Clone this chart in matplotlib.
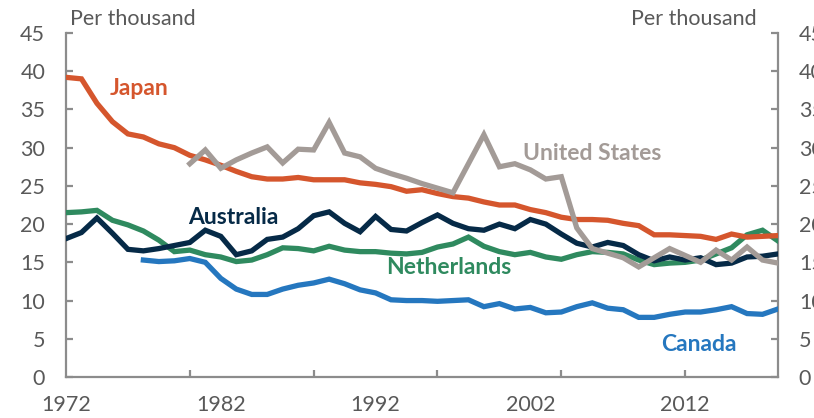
import matplotlib
matplotlib.use("Agg")
import matplotlib.pyplot as plt

plt.rcParams['font.family'] = ['Lato', 'DejaVu Sans']

years = list(range(1972, 2019))

japan = [39.2, 39.0, 35.8, 33.4, 31.8, 31.4, 30.5, 30.0, 29.0, 28.4,
         27.7, 26.9, 26.2, 25.9, 25.9, 26.1, 25.8, 25.8, 25.8, 25.4,
         25.2, 24.9, 24.3, 24.5, 24.0, 23.6, 23.4, 22.9, 22.5, 22.5,
         21.9, 21.5, 20.9, 20.6, 20.6, 20.5, 20.1, 19.8, 18.6, 18.6,
         18.5, 18.4, 18.0, 18.7, 18.3, 18.4, 18.5]

us_years = list(range(1980, 2019))
united_states = [27.9, 29.7, 27.3, 28.4, 29.3, 30.1, 28.0, 29.8, 29.7, 33.3,
                 29.3, 28.8, 27.3, 26.6, 26.0, 25.3, 24.7, 24.1, 27.9, 31.7,
                 27.5, 27.9, 27.1, 25.9, 26.2, 19.5, 16.8, 16.2, 15.6, 14.4,
                 15.6, 16.8, 15.9, 15.0, 16.6, 15.3, 17.0, 15.3, 14.9]

australia = [18.1, 18.9, 20.8, 18.8, 16.7, 16.5, 16.8, 17.2, 17.6, 19.2,
             18.4, 16.0, 16.5, 18.0, 18.3, 19.4, 21.1, 21.6, 20.1, 19.0,
             21.0, 19.3, 19.1, 20.2, 21.2, 20.1, 19.4, 19.2, 20.0, 19.4,
             20.6, 20.0, 18.7, 17.5, 17.0, 17.6, 17.2, 16.0, 15.2, 15.7,
             15.3, 15.6, 14.7, 14.9, 15.7, 15.8, 16.1]

netherlands = [21.5, 21.6, 21.8, 20.5, 19.9, 19.1, 17.9, 16.4, 16.6, 16.0,
               15.7, 15.1, 15.3, 16.0, 16.9, 16.8, 16.5, 17.1, 16.6, 16.4,
               16.4, 16.2, 16.1, 16.3, 17.0, 17.4, 18.3, 17.1, 16.4, 16.0,
               16.3, 15.7, 15.4, 16.0, 16.4, 16.3, 16.1, 15.3, 14.7, 14.9,
               15.0, 15.3, 16.1, 16.9, 18.6, 19.2, 17.8]

canada_years = list(range(1977, 2019))
canada = [15.3, 15.1, 15.2, 15.5, 15.0, 12.9, 11.5, 10.8, 10.8, 11.5,
          12.0, 12.3, 12.8, 12.2, 11.4, 11.0, 10.1, 10.0, 10.0, 9.9,
          10.0, 10.1, 9.2, 9.6, 8.9, 9.1, 8.4, 8.5, 9.2, 9.7,
          9.0, 8.8, 7.8, 7.8, 8.2, 8.5, 8.5, 8.8, 9.2, 8.3,
          8.2, 8.9]

yticks = [0, 5, 10, 15, 20, 25, 30, 35, 40, 45]
xlabels = [1972, 1982, 1992, 2002, 2012]
xmajor = [1980, 1988, 1996, 2004, 2012]

c_japan = '#D5562D'
c_us = '#A39B97'
c_aus = '#062A47'
c_neth = '#2F8A5F'
c_can = '#2577BF'
c_axis = '#8C8C8C'
c_text = '#595959'

fig = plt.figure(figsize=(8.14, 4.18), dpi=100)
ax = fig.add_axes([66/814, 41/418, (778-66)/814, (377-33)/418])

lw = 3.8
ax.plot(years, netherlands, color=c_neth, lw=lw, solid_joinstyle='miter', zorder=3)
ax.plot(years, australia, color=c_aus, lw=lw, solid_joinstyle='miter', zorder=4)
ax.plot(canada_years, canada, color=c_can, lw=lw, solid_joinstyle='miter', zorder=3)
ax.plot(years, japan, color=c_japan, lw=lw, solid_joinstyle='miter', zorder=3)
ax.plot(us_years, united_states, color=c_us, lw=lw, solid_joinstyle='miter', zorder=5)

ax.set_xlim(1972, 2018)
ax.set_ylim(0, 45)

for s in ['left', 'bottom', 'right']:
    ax.spines[s].set_color(c_axis)
    ax.spines[s].set_linewidth(1.6)
ax.spines['top'].set_visible(False)

ax.set_yticks(yticks)
ax.tick_params(axis='y', direction='in', length=5, width=1.6, color=c_axis,
               labelsize=15.5, labelcolor=c_text, pad=15, right=True, labelright=True)

ax.xaxis.remove_overlapping_locs = False
ax.set_xticks(xmajor)
ax.set_xticklabels([])
ax.set_xticks(xlabels, minor=True)
ax.set_xticklabels([str(v) for v in xlabels], minor=True)
ax.tick_params(axis='x', which='major', direction='in', length=5, width=1.6, color=c_axis)
ax.tick_params(axis='x', which='minor', length=0, labelsize=15.5, labelcolor=c_text, pad=13)

fig.text(70/814, 1 - 19/418, 'Per thousand', ha='left', va='center',
         fontsize=15.5, color=c_text)
fig.text(757/814, 1 - 19/418, 'Per thousand', ha='right', va='center',
         fontsize=15.5, color=c_text)

bold = dict(fontsize=16.5, fontweight='bold', ha='center', va='center')
ax.text(1976.7, 37.7, 'Japan', color=c_japan, **bold)
ax.text(1982.8, 20.9, 'Australia', color=c_aus, **bold)
ax.text(1996.7, 14.3, 'Netherlands', color=c_neth, **bold)
ax.text(2006.0, 29.3, 'United States', color=c_us, **bold)
ax.text(2012.9, 4.2, 'Canada', color=c_can, **bold)

fig.savefig('out.png', dpi=100)
